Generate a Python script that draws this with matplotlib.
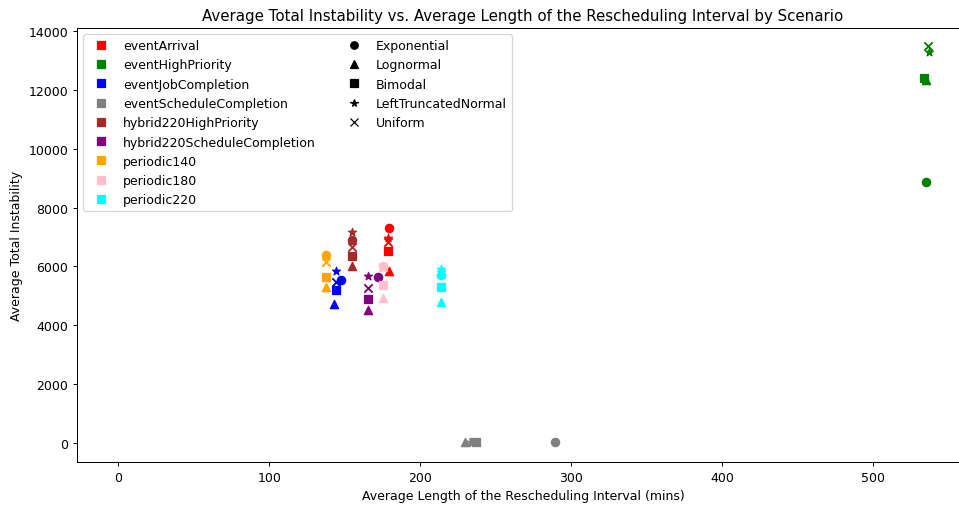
import matplotlib
matplotlib.use('Agg')
import matplotlib.pyplot as plt
from matplotlib.lines import Line2D

scenarios = ['eventArrival', 'eventHighPriority', 'eventJobCompletion',
             'eventScheduleCompletion', 'hybrid220HighPriority',
             'hybrid220ScheduleCompletion', 'periodic140', 'periodic180',
             'periodic220']
scenario_colors = ['red', 'green', 'blue', 'gray', 'brown', 'purple',
                   'orange', 'pink', 'cyan']

distributions = ['Exponential', 'Lognormal', 'Bimodal',
                 'LeftTruncatedNormal', 'Uniform']
dist_markers = ['o', '^', 's', '*', 'x']

# avg interval length (mins), rows = scenarios, cols = distributions
avg_interval = [
    [179.5, 179.5, 179.0, 179.0, 179.0],
    [534.9, 534.6, 533.6, 537.0, 536.0],
    [147.5, 143.0, 144.2, 144.6, 144.5],
    [289.2, 229.6, 237.0, 234.0, 235.0],
    [154.6, 154.6, 154.6, 154.6, 154.6],
    [172.2, 165.6, 165.6, 165.6, 165.8],
    [137.4, 137.4, 137.4, 137.4, 137.4],
    [175.6, 175.6, 175.6, 175.6, 175.6],
    [214.0, 214.0, 214.0, 214.0, 214.0],
]

# avg total instability
avg_instability = [
    [7306, 5831, 6512, 6965, 6819],
    [8883, 12330, 12405, 13290, 13494],
    [5535, 4717, 5194, 5851, 5456],
    [5, 10, 10, 10, 10],
    [6897, 6001, 6362, 7159, 6649],
    [5627, 4513, 4888, 5661, 5262],
    [6396, 5286, 5627, 5600, 6158],
    [6001, 4911, 5375, 5950, 5980],
    [5705, 4775, 5286, 5909, 5739],
]

fig = plt.figure(figsize=(959 / 90, 506 / 90), dpi=90)
ax = fig.add_axes([77 / 959, 43 / 506, 892 / 959, 434 / 506])

for j, m in enumerate(dist_markers):
    for i, c in enumerate(scenario_colors):
        ax.scatter(avg_interval[i][j], avg_instability[i][j], color=c, marker=m, s=44)

ax.set_xlim(-27.2, 563.4)
ax.set_ylim(-664, 14118)
ax.set_title('Average Total Instability vs. Average Length of the Rescheduling Interval by Scenario')
ax.set_xlabel('Average Length of the Rescheduling Interval (mins)')
ax.set_ylabel('Average Total Instability')

handles = [Line2D([], [], marker='s', color=c, linestyle='None', markersize=6, label=s)
           for s, c in zip(scenarios, scenario_colors)]
handles += [Line2D([], [], marker=m, color='black', linestyle='None', markersize=6, label=d)
            for d, m in zip(distributions, dist_markers)]
# pad second column so scenarios fill the first one
handles += [Line2D([], [], linestyle='None', label='') for _ in range(4)]
ax.legend(handles=handles, loc='upper left', ncol=2)

fig.savefig('out.png', dpi=90)
